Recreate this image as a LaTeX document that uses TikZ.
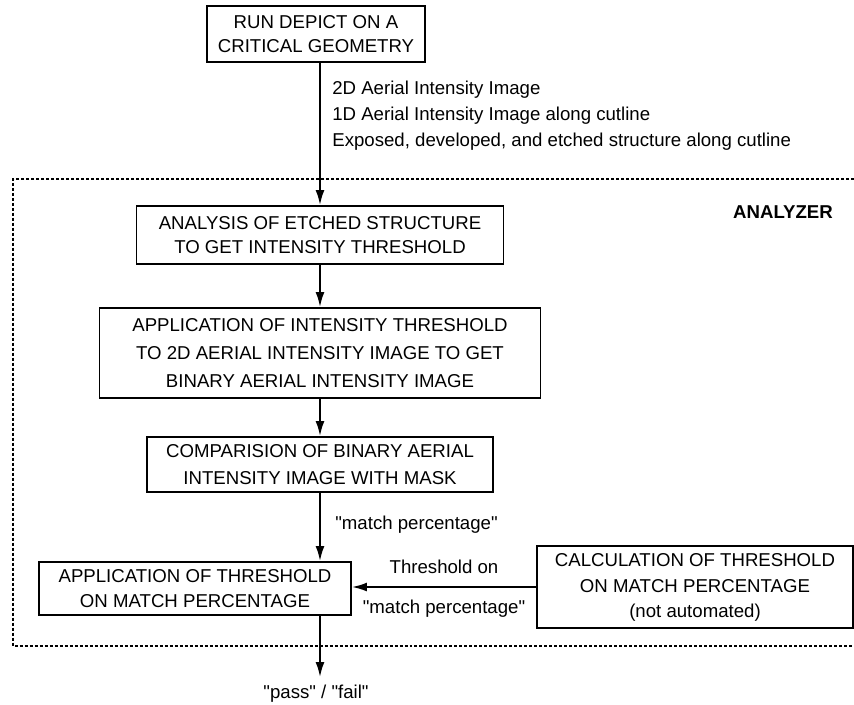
\documentclass[tikz,border=0pt]{standalone}
\usepackage{fontspec}
\setmainfont{Liberation Sans}
\usetikzlibrary{arrows.meta,positioning,calc}
\newcommand{\qt}[1]{\textquotedbl#1\textquotedbl}
\tikzset{
  blk/.style={draw, rectangle, line width=1.1pt, inner sep=0pt, align=center, font=\fontsize{10.6}{14}\selectfont},
  lbl/.style={inner sep=0pt, font=\fontsize{10.6}{14}\selectfont},
  arr/.style={-{Latex[length=3mm, width=1.8mm]}, line width=1.1pt},
  dashbox/.style={line width=0.8pt, dash pattern=on 0.06cm off 0.04cm},
}
\begin{document}
\begin{tikzpicture}[x=0.02cm, y=-0.02cm]
\useasboundingbox (0,0) rectangle (854,704);

\draw[dashbox] (854,179) -| (13,646) -- (854,646);
\node[lbl, font=\fontsize{10.6}{14}\selectfont\bfseries] (analyzer) at (783,212) {ANALYZER};

\node[blk, minimum width=218*0.02cm, minimum height=56*0.02cm] (run) at (316,34)
  {RUN DEPICT ON A\\CRITICAL GEOMETRY};
\node[blk, minimum width=367*0.02cm, minimum height=58*0.02cm] (etch) at (320,235)
  {ANALYSIS OF ETCHED STRUCTURE\\TO GET INTENSITY THRESHOLD};
\node[blk, minimum width=441*0.02cm, minimum height=90*0.02cm] (thr) at (320,353)
  {APPLICATION OF INTENSITY THRESHOLD\\[2pt]TO 2D AERIAL INTENSITY IMAGE TO GET\\[2pt]BINARY AERIAL INTENSITY IMAGE};
\node[blk, minimum width=346*0.02cm, minimum height=55*0.02cm] (cmp) at (320,464.5)
  {COMPARISION OF BINARY AERIAL\\[1pt]INTENSITY IMAGE WITH MASK};
\node[blk, minimum width=312*0.02cm, minimum height=53*0.02cm] (apply) at (195,588.5)
  {APPLICATION OF THRESHOLD\\ON MATCH PERCENTAGE};
\node[blk, minimum width=316*0.02cm, minimum height=82*0.02cm] (calc) at (695,587)
  {CALCULATION OF THRESHOLD\\[1pt]ON MATCH PERCENTAGE\\(not automated)};

\node[lbl, align=left, anchor=west, font=\fontsize{10.6}{14.7}\selectfont] (data) at (332,116)
  {2D Aerial Intensity Image\\1D Aerial Intensity Image along cutline\\Exposed, developed, and etched structure along cutline};
\node[lbl, anchor=west] (match) at (335,525) {\qt{match percentage}};

\coordinate (out) at (320,677);
\node[lbl] (verdict) at (316,694) {\qt{pass} / \qt{fail}};

\draw[arr] (run.south -| etch.north) -- (etch.north);
\draw[arr] (etch) -- (thr);
\draw[arr] (thr) -- (cmp);
\draw[arr] (cmp.south) -- (cmp.south |- apply.north);
\draw[arr] (calc.west) -- (calc.west -| apply.east)
  node[lbl, midway, above=7pt] {Threshold on}
  node[lbl, midway, below=7pt] {\qt{match percentage}};
\draw[arr] (apply.south -| cmp.south) -- (out);

\end{tikzpicture}
\end{document}
